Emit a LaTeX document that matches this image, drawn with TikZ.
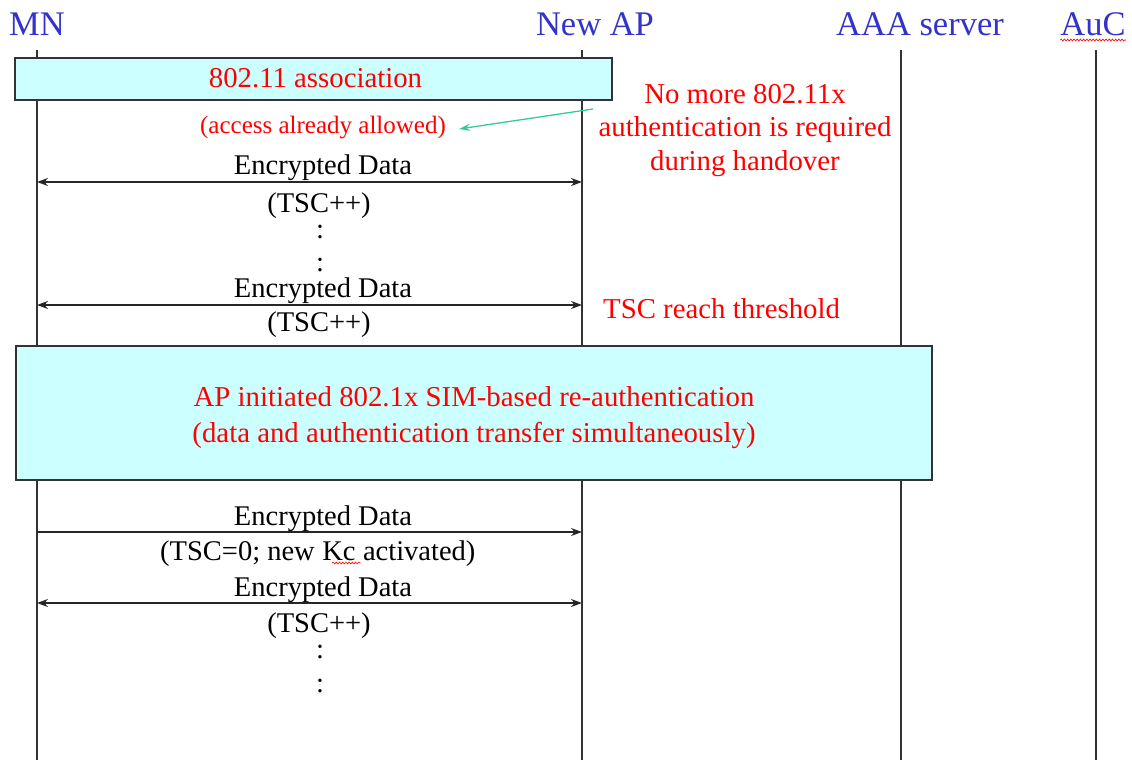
\documentclass[tikz,border=0pt]{standalone}
\usepackage{fontspec}
\setmainfont{Liberation Serif}
\usetikzlibrary{arrows.meta,decorations.pathmorphing}
\definecolor{hdrblue}{HTML}{3333CC}
\definecolor{boxfill}{HTML}{CCFFFF}
\definecolor{notered}{HTML}{FF0000}
\definecolor{linegray}{HTML}{333333}
\definecolor{pointer}{HTML}{33CC99}
\begin{document}
\begin{tikzpicture}[x=1pt,y=-1pt,
  >={Stealth[length=11pt,width=8pt]},
  hdr/.style={text=hdrblue,font=\fontsize{34.5}{38}\selectfont,anchor=base,inner sep=0pt},
  lbl/.style={font=\fontsize{28.5}{32}\selectfont,anchor=base,inner sep=0pt},
  note/.style={text=notered,font=\fontsize{28.8}{33.5}\selectfont,inner sep=0pt},
  smallnote/.style={text=notered,font=\fontsize{25}{28}\selectfont,anchor=base,inner sep=0pt},
  lifeline/.style={draw=linegray,line width=1.3pt},
  phase/.style={draw=linegray,fill=boxfill,line width=1.6pt},
  phasetext/.style={text=notered,font=\fontsize{28.8}{36}\selectfont,align=center,inner sep=0pt},
  msg/.style={draw=black!85,line width=1.4pt},
  squiggle/.style={draw=notered,line width=0.6pt,decorate,
    decoration={snake,amplitude=1pt,segment length=3.2pt}}]
\useasboundingbox (0,0) rectangle (1132,760);

% entity headers
\node[hdr] (hMN)  at (37,36)   {MN};
\node[hdr] (hAP)  at (595,36)  {New AP};
\node[hdr] (hAAA) at (920,36)  {AAA server};
\node[hdr] (hAuC) at (1093,36) {AuC};
\draw[squiggle] ([yshift=-4pt]hAuC.base west) -- ([yshift=-4pt]hAuC.base east);

% lifelines
\coordinate (mnT)  at (37,50);   \coordinate (mnB)  at (37,760);
\coordinate (apT)  at (582,50);  \coordinate (apB)  at (582,760);
\coordinate (aaaT) at (901,50);  \coordinate (aaaB) at (901,760);
\coordinate (aucT) at (1096,50); \coordinate (aucE) at (1096,760);
\draw[lifeline] (mnT) -- (mnB);
\draw[lifeline] (apT) -- (apB);
\draw[lifeline] (aaaT) -- (aaaB);
\draw[lifeline] (aucT) -- (aucE);

% association phase
\node[phase,minimum width=597pt,minimum height=42pt] (assoc) at (313.5,79) {};
\node[phasetext,anchor=base] (assocT) at (315.5,88) {802.11 association};
\node[smallnote] (allowed) at (323,133) {(access already allowed)};

% side remark with pointer
\node[note,align=center,anchor=north] (remark) at (745,84)
  {No more 802.11x\\authentication is required\\during handover};
\coordinate (ptrS) at (593,109);
\coordinate (ptrE) at (459,129);
\draw[pointer,line width=1.3pt,-{Stealth[length=11pt,width=7pt]}] (ptrS) -- (ptrE);

% first data exchange
\coordinate (m1L) at (37,182);  \coordinate (m1R) at (582,182);
\draw[msg,<->] (m1L) -- (m1R);
\node[lbl] (m1t) at (323,174) {Encrypted Data};
\node[lbl] (m1b) at (319,212) {(TSC++)};
\node[lbl] (d1)  at (320,238) {:};
\node[lbl] (d2)  at (320,271) {:};

% last data exchange before threshold
\coordinate (m2L) at (37,305);  \coordinate (m2R) at (582,305);
\draw[msg,<->] (m2L) -- (m2R);
\node[lbl] (m2t) at (323,297) {Encrypted Data};
\node[lbl] (m2b) at (319,331) {(TSC++)};
\node[note,anchor=base west] (thr) at (603,318) {TSC reach threshold};

% re-authentication phase
\node[phase,minimum width=916pt,minimum height=134pt] (reauth) at (474,413) {};
\node[phasetext] (reauthT) at (474,418)
  {AP initiated 802.1x SIM-based re-authentication\\(data and authentication transfer simultaneously)};

% key activation (the key name carries a spelling squiggle)
\coordinate (m3L) at (37,532);  \coordinate (m3R) at (582,532);
\draw[msg,->] (m3L) -- (m3R);
\node[lbl] (m3t) at (323,525) {Encrypted Data};
\node[lbl,anchor=base west] (m3a) at (160,560) {(TSC=0; new};
\node[lbl,anchor=base west] (kc) at ([xshift=7.1pt]m3a.base east) {Kc};
\node[lbl,anchor=base west] (m3c) at ([xshift=7.1pt]kc.base east) {activated)};
\draw[squiggle] ([xshift=10pt,yshift=-3pt]kc.base west) -- ([xshift=5pt,yshift=-3pt]kc.base east);

% data exchange with new key
\coordinate (m4L) at (37,603);  \coordinate (m4R) at (582,603);
\draw[msg,<->] (m4L) -- (m4R);
\node[lbl] (m4t) at (323,596) {Encrypted Data};
\node[lbl] (m4b) at (319,632) {(TSC++)};
\node[lbl] (d3)  at (320,658) {:};
\node[lbl] (d4)  at (320,692) {:};
\end{tikzpicture}
\end{document}
